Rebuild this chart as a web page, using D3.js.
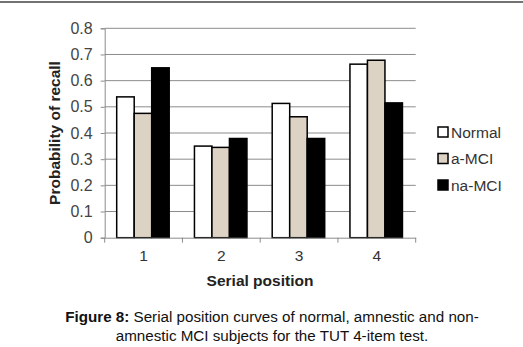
<!DOCTYPE html>
<html>
<head>
<meta charset="utf-8">
<script src="https://cdn.jsdelivr.net/npm/d3@7"></script>
<style>
  body { margin: 0; background: #fff; }
  svg { display: block; font-family: Arial, "Liberation Sans", sans-serif; }
</style>
</head>
<body>
<svg id="chart" width="523" height="347"></svg>
<script>
// data
const positions = ['1', '2', '3', '4'];
const groups = ['Normal', 'a-MCI', 'na-MCI'];
const normalVals = [0.538, 0.350, 0.513, 0.663];
const aMciVals = [0.475, 0.345, 0.462, 0.678];
const naMciVals = [0.649, 0.379, 0.379, 0.515];
const yTicks = [0, 0.1, 0.2, 0.3, 0.4, 0.5, 0.6, 0.7, 0.8];

const fills = { 'Normal': '#ffffff', 'a-MCI': '#ddd3c4', 'na-MCI': '#000000' };
const series = { 'Normal': normalVals, 'a-MCI': aMciVals, 'na-MCI': naMciVals };

const svg = d3.select('#chart');
const W = 523;

// top rule of the page
svg.append('line')
  .attr('x1', 0).attr('x2', W).attr('y1', 2).attr('y2', 2)
  .attr('stroke', '#444').attr('stroke-width', 1.5);

const plot = { left: 104.7, right: 415.7, top: 28.3, bottom: 237.7 };

const x = d3.scaleBand().domain(positions).range([plot.left, plot.right]).paddingInner(0).paddingOuter(0);
const x1 = d3.scaleBand().domain(groups).range([12, 12 + 52.5]);
const y = d3.scaleLinear().domain([0, 0.8]).range([plot.bottom, plot.top]);

// gridlines
svg.append('g').selectAll('line')
  .data(yTicks.filter(d => d > 0))
  .enter().append('line')
  .attr('x1', plot.left).attr('x2', plot.right)
  .attr('y1', d => y(d)).attr('y2', d => y(d))
  .attr('stroke', '#8c8c8c').attr('stroke-width', 1);

// y axis
const yAxis = svg.append('g')
  .attr('transform', `translate(${plot.left},0)`)
  .call(d3.axisLeft(y).tickValues(yTicks).tickSize(4).tickPadding(8).tickFormat(d => d === 0 ? '0' : d3.format('.1f')(d)));
yAxis.select('.domain').attr('stroke', '#8c8c8c');
yAxis.selectAll('.tick line').attr('stroke', '#8c8c8c');
yAxis.selectAll('.tick text').attr('font-size', 16).attr('fill', '#444').attr('font-family', 'Arial, "Liberation Sans", sans-serif');

// bars
const barG = svg.append('g').selectAll('g')
  .data(positions)
  .enter().append('g')
  .attr('transform', d => `translate(${x(d)},0)`);

barG.selectAll('rect')
  .data((d, i) => groups.map(gname => ({ key: gname, value: series[gname][i] })))
  .enter().append('rect')
  .attr('x', d => x1(d.key))
  .attr('width', x1.bandwidth())
  .attr('y', d => y(d.value))
  .attr('height', d => y(0) - y(d.value))
  .attr('fill', d => fills[d.key])
  .attr('stroke', '#000')
  .attr('stroke-width', 1.5);

// x axis
const xAxis = svg.append('g')
  .attr('transform', `translate(0,${plot.bottom})`)
  .call(d3.axisBottom(x).tickSize(0).tickPadding(12));
xAxis.select('.domain').attr('stroke', '#8c8c8c');
xAxis.selectAll('.tick text').attr('font-size', 15.5).attr('fill', '#333').attr('font-family', 'Arial, "Liberation Sans", sans-serif');
// boundary tick marks between categories
svg.append('g').selectAll('line')
  .data(positions.slice(1).concat(['end']))
  .enter().append('line')
  .attr('x1', d => d === 'end' ? plot.right : x(d))
  .attr('x2', d => d === 'end' ? plot.right : x(d))
  .attr('y1', plot.bottom).attr('y2', plot.bottom + 5)
  .attr('stroke', '#8c8c8c');
svg.append('line')
  .attr('x1', plot.left).attr('x2', plot.left)
  .attr('y1', plot.bottom).attr('y2', plot.bottom + 5)
  .attr('stroke', '#8c8c8c');

// axis titles
svg.append('text')
  .attr('transform', `translate(60,${(plot.top + plot.bottom) / 2}) rotate(-90)`)
  .attr('text-anchor', 'middle')
  .attr('font-size', 15.5).attr('font-weight', 'bold').attr('fill', '#222')
  .text('Probability of recall');

svg.append('text')
  .attr('x', 260).attr('y', 286)
  .attr('text-anchor', 'middle')
  .attr('font-size', 15.5).attr('font-weight', 'bold').attr('fill', '#222')
  .text('Serial position');

// legend
const legend = svg.append('g').selectAll('g')
  .data(groups)
  .enter().append('g')
  .attr('transform', (d, i) => `translate(438,${132 + i * 26.5})`);
legend.append('rect')
  .attr('x', 0).attr('y', -5).attr('width', 10).attr('height', 10)
  .attr('fill', d => fills[d]).attr('stroke', '#000').attr('stroke-width', 1.5);
legend.append('text')
  .attr('x', 13).attr('y', 5.5)
  .attr('font-size', 15.5).attr('fill', '#333')
  .text(d => d);

// caption
const cap1 = svg.append('text')
  .attr('x', 272).attr('y', 322)
  .attr('text-anchor', 'middle')
  .attr('font-size', 15.2).attr('fill', '#111');
cap1.append('tspan').attr('font-weight', 'bold').text('Figure 8:');
cap1.append('tspan').text(' Serial position curves of normal, amnestic and non-');

svg.append('text')
  .attr('x', 272).attr('y', 340.5)
  .attr('text-anchor', 'middle')
  .attr('font-size', 15.2).attr('fill', '#111')
  .text('amnestic MCI subjects for the TUT 4-item test.');
</script>
</body>
</html>
